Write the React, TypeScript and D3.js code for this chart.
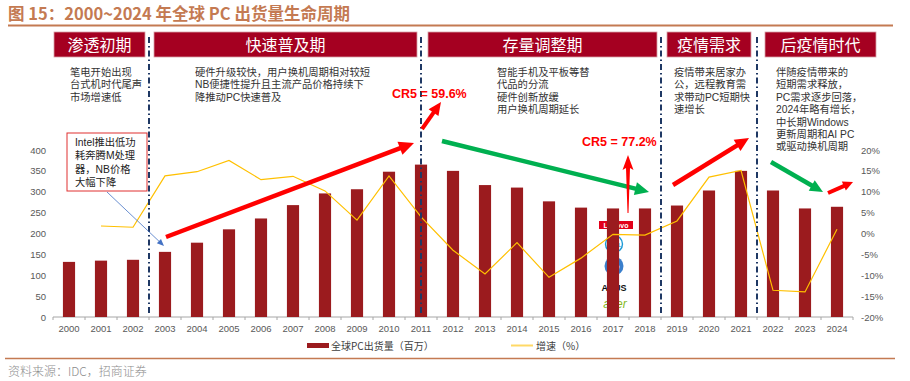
import React from "react";
import * as d3 from "d3";

const years = ["2000","2001","2002","2003","2004","2005","2006","2007","2008","2009","2010","2011","2012","2013","2014","2015","2016","2017","2018","2019","2020","2021","2022","2023","2024"];
const shipments = [132,135,137,156,178,210,236,268,296,306,348,365,350,316,310,277,262,260,260,267,303,350,303,260,264];
const growth: (number | null)[] = [null,1.8,1.5,13.8,14.8,17.5,12.9,13.7,10.2,3.2,13.8,4.0,-4.0,-9.7,-2.2,-10.5,-5.9,-0.2,-0.4,3.0,13.5,15.1,-13.6,-14.0,1.0];
const leftTicks = [0,50,100,150,200,250,300,350,400];
const rightTicks = [-20,-15,-10,-5,0,5,10,15,20];
const phaseNames = ["渗透初期","快速普及期","存量调整期","疫情需求","后疫情时代"];
const phaseNotes = [
  ["笔电开始出现","台式机时代尾声","市场增速低"],
  ["硬件升级较快，用户换机周期相对较短","NB便捷性提升且主流产品价格持续下","降推动PC快速普及"],
  ["智能手机及平板等替","代品的分流","硬件创新放缓","用户换机周期延长"],
  ["疫情带来居家办","公，远程教育需","求带动PC短期快","速增长"],
  ["伴随疫情带来的","短期需求释放，","PC需求逐步回落，","2024年略有增长，","中长期Windows","更新周期和AI PC","或驱动换机周期"],
];
const intelNote = ["Intel推出低功","耗奔腾M处理","器，NB价格","大幅下降"];
const title = "图 15：2000~2024 年全球 PC 出货量生命周期";
const source = "资料来源：IDC，招商证券";
const legendLabels = ["全球PC出货量（百万）","增速（%）"];
const cr5Labels = ["CR5 = 59.6%","CR5 = 77.2%"];

const CJK = "'Noto Sans CJK SC', 'Noto Sans', sans-serif";
const MIX = "'Liberation Sans', Arial, 'Noto Sans CJK SC', sans-serif";
const ARIAL = "'Liberation Sans', Arial, sans-serif";
const BAR = "#9B1B1E";
const LINE = "#FFC000";
const HEAD = "#A50021";
const ORANGE = "#C47A52";
const RED = "#FF0000";
const GREEN = "#00B050";

function Arrow({ x1, y1, x2, y2, color, w, hl, hw }: any) {
  const dx = x2 - x1, dy = y2 - y1;
  const len = Math.hypot(dx, dy);
  const ux = dx / len, uy = dy / len;
  const bx = x2 - ux * hl, by = y2 - uy * hl;
  const px = -uy, py = ux;
  const pts = [
    [x2, y2],
    [bx + px * hw / 2, by + py * hw / 2],
    [bx - px * hw / 2, by - py * hw / 2],
  ];
  return (
    <g>
      <line x1={x1} y1={y1} x2={bx + ux * 1} y2={by + uy * 1} stroke={color} strokeWidth={w} />
      <polygon points={pts.map((p) => p.join(",")).join(" ")} fill={color} />
    </g>
  );
}

export default function App() {
  const W = 910, H = 381;
  const x = d3.scaleBand<string>().domain(years).range([53, 853]).paddingInner(0.62).paddingOuter(0.31);
  const y = d3.scaleLinear().domain([0, 400]).range([317, 150]);
  const yR = d3.scaleLinear().domain([-20, 20]).range([317, 150]);
  const bw = x.bandwidth();
  const cx = (yr: string) => (x(yr) as number) + bw / 2;
  const between = (a: string, b: string) => (cx(a) + cx(b)) / 2;

  const lineGen = d3
    .line<number | null>()
    .defined((d) => d !== null)
    .x((_, i) => cx(years[i]))
    .y((d) => yR(d as number));

  const dividers = [between("2002", "2003"), cx("2011"), between("2018", "2019"), between("2021", "2022")];
  const boxes = [
    [54, 145], [154, 417], [428, 657], [667, 751], [765, 876],
  ];
  const noteX = [70, 195, 497, 674, 776];

  return (
    <svg width={W} height={H} style={{ position: "absolute", left: 0, top: 0, background: "#fff" }}>
      {/* title */}
      <text x={8} y={19.5} fontFamily={CJK} fontWeight={700} fontSize={16.5} fill={ORANGE}>{title}</text>
      <line x1={8} x2={893} y1={25.5} y2={25.5} stroke={ORANGE} strokeWidth={2} />

      {/* phase headers */}
      {boxes.map(([a, b], i) => (
        <g key={i}>
          <rect x={a} y={32} width={b - a} height={25} fill={HEAD} stroke="#D8A0A8" strokeWidth={0.8} />
          <text x={(a + b) / 2} y={50.5} textAnchor="middle" fontFamily={CJK} fontSize={16} fill="#fff">{phaseNames[i]}</text>
        </g>
      ))}

      {/* notes */}
      {phaseNotes.map((lines, i) => (
        <text key={i} fontFamily={MIX} fontSize={10.3} fill="#333">
          {lines.map((l, j) => (
            <tspan key={j} x={noteX[i]} y={76 + j * 12.4}>{l}</tspan>
          ))}
        </text>
      ))}

      {/* axes */}
      <line x1={53} x2={853} y1={317} y2={317} stroke="#A6A6A6" strokeWidth={1} />
      {years.map((yr, i) => (
        <line key={"t" + i} x1={(x(yr) as number) - (x.step() - bw) / 2} x2={(x(yr) as number) - (x.step() - bw) / 2} y1={317} y2={320} stroke="#A6A6A6" />
      ))}
      <line x1={853} x2={853} y1={317} y2={320} stroke="#A6A6A6" />
      {leftTicks.map((t) => (
        <text key={"l" + t} x={46} y={y(t) + 3.5} textAnchor="end" fontFamily={ARIAL} fontSize={9.5} fill="#595959">{t}</text>
      ))}
      {rightTicks.map((t) => (
        <text key={"r" + t} x={861} y={yR(t) + 3.5} fontFamily={ARIAL} fontSize={9.5} fill="#595959">{t + "%"}</text>
      ))}
      {years.map((yr) => (
        <text key={"x" + yr} x={cx(yr)} y={332} textAnchor="middle" fontFamily={ARIAL} fontSize={9.5} fill="#595959">{yr}</text>
      ))}

      {/* logos (behind bars) */}
      <g>
        <rect x={599} y={221} width={34} height={8} fill="#E2001A" />
        <text x={616} y={227.6} textAnchor="middle" fontFamily={ARIAL} fontWeight={700} fontSize={7} fill="#fff">Lenovo</text>
        <circle cx={614} cy={244} r={8.5} fill="#fff" stroke="#1C9AD6" strokeWidth={1.4} />
        <text x={614} y={246.5} textAnchor="middle" fontFamily={ARIAL} fontSize={6} fill="#1C9AD6">DELL</text>
        <circle cx={614} cy={266} r={9.5} fill="#3A7FCC" />
        <text x={614} y={269.5} textAnchor="middle" fontFamily={ARIAL} fontStyle="italic" fontWeight={700} fontSize={9} fill="#fff">hp</text>
        <text x={614} y={291} textAnchor="middle" fontFamily={ARIAL} fontWeight={700} fontSize={9} fill="#111">ASUS</text>
        <text x={615} y={308} textAnchor="middle" fontFamily={ARIAL} fontStyle="italic" fontSize={12} fill="#83B81A">acer</text>
      </g>

      {/* bars */}
      {shipments.map((v, i) => (
        <rect key={"b" + i} x={x(years[i])} y={y(v)} width={bw} height={317 - y(v)} fill={BAR} />
      ))}

      {/* growth line */}
      <path d={lineGen(growth) || ""} fill="none" stroke={LINE} strokeWidth={1.2} />

      {/* dividers */}
      {dividers.map((dx, i) => (
        <line key={"d" + i} x1={dx} x2={dx} y1={37} y2={316} stroke="#1F3864" strokeWidth={2} strokeDasharray="6,3,1.5,3" />
      ))}

      {/* Intel box */}
      <rect x={67} y={133} width={80} height={58} fill="#fff" stroke="#E03030" strokeWidth={1} />
      <text fontFamily={MIX} fontSize={10.3} fill="#222">
        {intelNote.map((l, j) => (
          <tspan key={j} x={75} y={146 + j * 13.3}>{l}</tspan>
        ))}
      </text>
      <Arrow x1={107} y1={192} x2={164} y2={246} color="#4472C4" w={0.8} hl={7} hw={6} />

      {/* trend arrows */}
      <Arrow x1={166} y1={237} x2={414} y2={143} color={RED} w={4.5} hl={15} hw={14} />
      <Arrow x1={422} y1={129} x2={441} y2={102} color={RED} w={4} hl={13} hw={12} />
      <Arrow x1={442} y1={141} x2={649} y2={192} color={GREEN} w={4.5} hl={14} hw={13} />
      <Arrow x1={673} y1={185} x2={749} y2={138} color={RED} w={4.5} hl={14} hw={13} />
      <Arrow x1={771} y1={162} x2={823} y2={192} color={GREEN} w={4.5} hl={13} hw={12} />
      <Arrow x1={828} y1={193} x2={853} y2={182} color={RED} w={4} hl={10} hw={10} />
      <polygon points="628,155 633.5,170 630,168 628.5,213 627.5,213 626,168 622.5,170" fill={RED} />

      {/* CR5 labels */}
      <text x={392} y={98} fontFamily={ARIAL} fontWeight={700} fontSize={12.5} fill={RED}>{cr5Labels[0]}</text>
      <text x={582} y={146} fontFamily={ARIAL} fontWeight={700} fontSize={12.5} fill={RED}>{cr5Labels[1]}</text>

      {/* legend */}
      <rect x={307} y={343} width={22} height={5} fill={BAR} />
      <text x={331} y={349.5} fontFamily={CJK} fontSize={10} fill="#404040">{legendLabels[0]}</text>
      <line x1={511} x2={533} y1={345.5} y2={345.5} stroke="#FFD966" strokeWidth={2} />
      <text x={536} y={349.5} fontFamily={CJK} fontSize={10} fill="#404040">{legendLabels[1]}</text>

      {/* footer */}
      <line x1={5} x2={895} y1={358.5} y2={358.5} stroke={ORANGE} strokeWidth={1.5} />
      <text x={8} y={376} fontFamily={CJK} fontSize={12} fontWeight={300} fill="#8C8C8C">{source}</text>
    </svg>
  );
}
